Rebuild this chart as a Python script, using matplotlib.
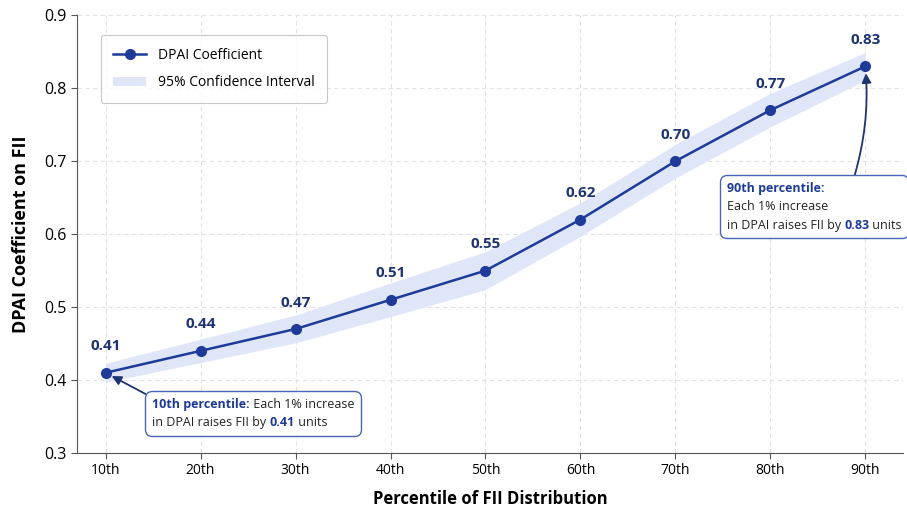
import matplotlib.pyplot as plt
import numpy as np
from matplotlib.offsetbox import TextArea, HPacker, VPacker, AnnotationBbox
from matplotlib.lines import Line2D
from matplotlib.patches import Patch

plt.rcParams['font.family'] = ['Open Sans', 'DejaVu Sans']

percentiles = ["10th", "20th", "30th", "40th", "50th", "60th", "70th", "80th", "90th"]
coef = [0.41, 0.44, 0.47, 0.51, 0.55, 0.62, 0.70, 0.77, 0.83]
ci_low = [0.397, 0.424, 0.451, 0.487, 0.524, 0.597, 0.677, 0.747, 0.811]
ci_high = [0.423, 0.456, 0.489, 0.533, 0.576, 0.643, 0.723, 0.793, 0.849]

LINE = "#1f3b9a"
NAVY = "#1e3470"
BAND = "#dfe6f8"
EDGE = "#4a64b8"


def note_box(lines, size=9):
    rows = []
    for parts in lines:
        areas = [TextArea(txt, textprops=dict(color=col, fontweight=w, size=size))
                 for txt, col, w in parts]
        rows.append(HPacker(children=areas, sep=0, pad=0, align="baseline"))
    return VPacker(children=rows, sep=4, pad=0, align="left")


def main():
    fig = plt.figure(figsize=(9.07, 5.09), dpi=100)
    ax = fig.add_axes([0.085, 0.11, 0.911, 0.86])
    x = np.arange(len(percentiles))

    ax.fill_between(x, ci_low, ci_high, color=BAND, lw=0, zorder=1)
    ax.plot(x, coef, color=LINE, lw=1.8, marker="o", ms=7, zorder=3)

    for xi, v in zip(x, coef):
        ax.annotate(f"{v:.2f}", (xi, v), xytext=(0, 14), textcoords="offset points",
                    ha="center", va="bottom", fontsize=11, fontweight="bold", color=NAVY)

    ax.set_xlim(-0.3, 8.4)
    ax.set_ylim(0.3, 0.9)
    ax.set_xticks(x)
    ax.set_xticklabels(percentiles)
    ax.set_yticks(np.arange(0.3, 0.91, 0.1))
    ax.tick_params(axis="both", labelsize=10, color="#555555", length=4)
    ax.tick_params(axis="y", labelsize=11.5)
    ax.grid(True, ls=(0, (4, 3)), color="#e2e2e2", lw=0.8)
    ax.set_axisbelow(True)
    for s in ("top", "right"):
        ax.spines[s].set_visible(False)
    for s in ("left", "bottom"):
        ax.spines[s].set_color("#555555")

    ax.set_xlabel("Percentile of FII Distribution", fontsize=12, fontweight="bold", labelpad=8)
    ax.set_ylabel("DPAI Coefficient on FII", fontsize=13, fontweight="bold", labelpad=10)

    handles = [Line2D([], [], color=LINE, lw=1.8, marker="o", ms=7),
               Patch(facecolor=BAND, edgecolor="none")]
    leg = ax.legend(handles, ["DPAI Coefficient", "95% Confidence Interval"],
                    loc="upper left", bbox_to_anchor=(0.02, 0.97), fontsize=10,
                    frameon=True, borderpad=0.9, labelspacing=0.9, handlelength=2.4,
                    fancybox=True, edgecolor="#bbbbbb")
    leg.get_frame().set_linewidth(0.8)

    low_note = note_box([
        [("10th percentile:", LINE, "bold"), (" Each 1% increase", "#222222", "normal")],
        [("in DPAI raises FII by ", "#222222", "normal"), ("0.41", LINE, "bold"),
         (" units", "#222222", "normal")],
    ])
    ab = AnnotationBbox(low_note, (x[0], coef[0]), xybox=(0.49, 0.376), boxcoords="data",
                        box_alignment=(0, 1),
                        bboxprops=dict(boxstyle="round,pad=0.5", ec=EDGE, fc="white", lw=1),
                        arrowprops=dict(arrowstyle="-|>", color=NAVY, lw=1.3,
                                        shrinkA=0, shrinkB=5, relpos=(0.03, 0.9)))
    ax.add_artist(ab)

    high_note = note_box([
        [("90th percentile:", LINE, "bold")],
        [("Each 1% increase", "#222222", "normal")],
        [("in DPAI raises FII by ", "#222222", "normal"), ("0.83", LINE, "bold"),
         (" units", "#222222", "normal")],
    ])
    ab = AnnotationBbox(high_note, (x[8], coef[8]), xybox=(6.54, 0.672), boxcoords="data",
                        box_alignment=(0, 1),
                        bboxprops=dict(boxstyle="round,pad=0.45", ec=EDGE, fc="white", lw=1),
                        arrowprops=dict(arrowstyle="-|>", color=NAVY, lw=1.3,
                                        shrinkA=0, shrinkB=5, relpos=(0.72, 1),
                                        connectionstyle="arc3,rad=0.1"))
    ax.add_artist(ab)

    fig.savefig("out.png", dpi=100)


if __name__ == "__main__":
    main()
